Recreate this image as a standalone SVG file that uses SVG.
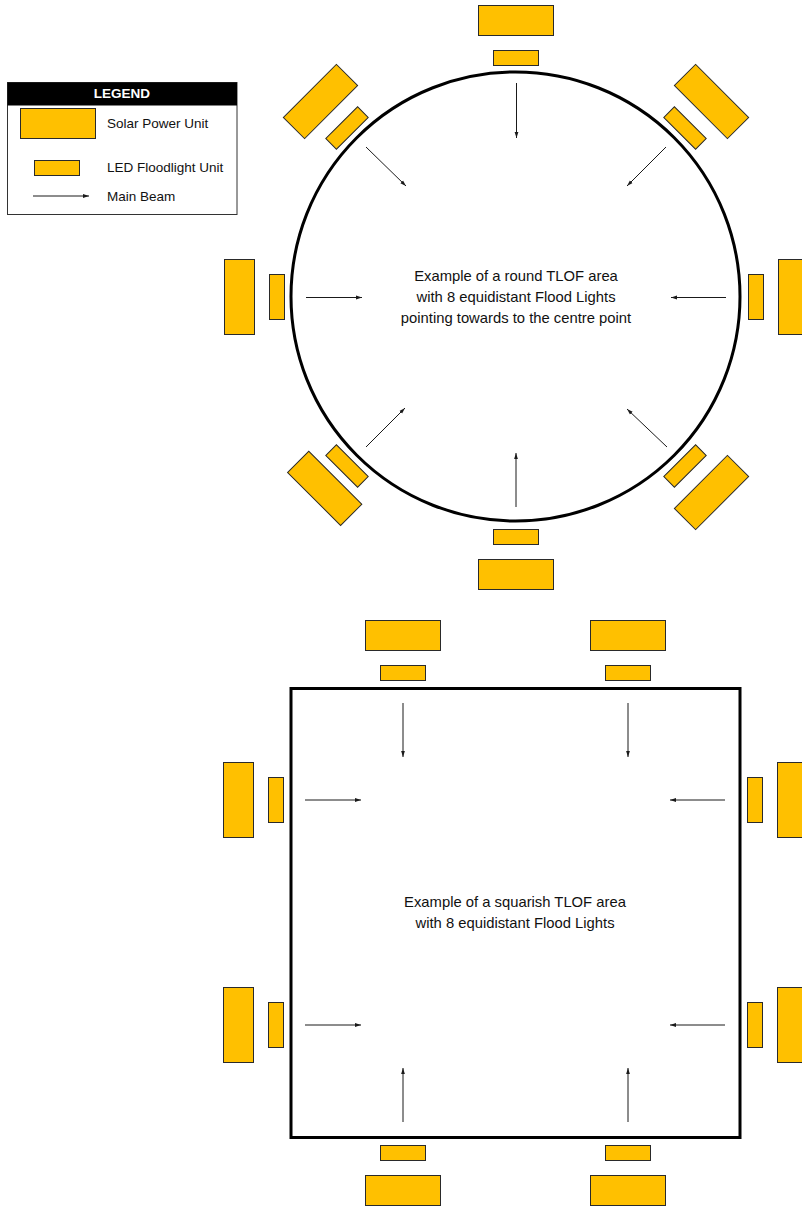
<svg xmlns="http://www.w3.org/2000/svg" width="802" height="1206" viewBox="0 0 802 1206">
<style>
.u{fill:#FFC000;stroke:#2a2a2a;stroke-width:1}
.beam{stroke:#1a1a1a;stroke-width:1;fill:none;marker-end:url(#ah)}
.area{fill:none;stroke:#000;stroke-width:3}
.t{font-family:"Liberation Sans",Arial,sans-serif;font-size:13.5px;fill:#111}
.c{font-family:"Liberation Sans",Arial,sans-serif;font-size:14.8px;fill:#111;text-anchor:middle}
</style>
<defs>
<marker id="ah" markerUnits="userSpaceOnUse" markerWidth="7" markerHeight="5" refX="6" refY="2.5" orient="auto"><path d="M0,0.6 L6,2.5 L0,4.4 z" fill="#1a1a1a"/></marker>
<g id="unitV"><rect class="u" x="478.5" y="5.5" width="75" height="30"/><rect class="u" x="493.5" y="50.5" width="45" height="15"/></g>
</defs>
<rect width="802" height="1206" fill="#fff"/>

<g id="legend">
<rect x="7.5" y="82.5" width="229.5" height="132" fill="#fff" stroke="#333" stroke-width="1"/>
<rect x="7.5" y="82.5" width="229.5" height="23" fill="#000"/>
<text x="122" y="98" fill="#fff" text-anchor="middle" style="font-family:'Liberation Sans',Arial,sans-serif;font-size:13.5px;font-weight:bold">LEGEND</text>
<rect class="u" x="20.5" y="108.5" width="75" height="30"/>
<text class="t" x="107" y="128">Solar Power Unit</text>
<rect class="u" x="34.5" y="160.5" width="45" height="15"/>
<text class="t" x="107" y="172">LED Floodlight Unit</text>
<line class="beam" x1="33" y1="196" x2="89" y2="196"/>
<text class="t" x="107" y="201">Main Beam</text>
</g>

<g id="round-area">
<circle class="area" cx="515.5" cy="296.5" r="224.5"/>
<text class="c" x="516" y="281">Example of a round TLOF area</text>
<text class="c" x="516" y="302">with 8 equidistant Flood Lights</text>
<text class="c" x="516" y="323">pointing towards to the centre point</text>
</g>

<g id="round-n"><use href="#unitV"/></g>
<g id="round-nw"><use href="#unitV" transform="rotate(-45 516 297)"/></g>
<g id="round-ne"><use href="#unitV" transform="rotate(45 516 297)"/></g>
<g id="round-w"><rect class="u" x="224.5" y="259.5" width="30" height="75"/><rect class="u" x="269.5" y="274.5" width="15" height="45"/></g>
<g id="round-e"><rect class="u" x="748.5" y="274.5" width="15" height="45"/><rect class="u" x="778.5" y="259.5" width="30" height="75"/></g>
<g id="round-s"><rect class="u" x="493.5" y="529.5" width="45" height="15"/><rect class="u" x="478.5" y="559.5" width="75" height="30"/></g>
<g id="round-sw"><rect class="u" x="478.5" y="5.5" width="75" height="30" transform="translate(4.2 -4.2) rotate(-135 516 297)"/><rect class="u" x="493.5" y="50.5" width="45" height="15" transform="rotate(-135 516 297)"/></g>
<g id="round-se"><use href="#unitV" transform="rotate(135 516 297)"/></g>

<g id="square-area">
<rect class="area" x="291" y="688.5" width="449" height="449"/>
<text class="c" x="515" y="907">Example of a squarish TLOF area</text>
<text class="c" x="515" y="928">with 8 equidistant Flood Lights</text>
</g>

<g id="sq-n1"><rect class="u" x="365.5" y="620.5" width="75" height="30"/><rect class="u" x="380.5" y="665.5" width="45" height="15"/></g>
<g id="sq-n2"><rect class="u" x="590.5" y="620.5" width="75" height="30"/><rect class="u" x="605.5" y="665.5" width="45" height="15"/></g>
<g id="sq-s1"><rect class="u" x="380.5" y="1145.5" width="45" height="15"/><rect class="u" x="365.5" y="1175.5" width="75" height="30"/></g>
<g id="sq-s2"><rect class="u" x="605.5" y="1145.5" width="45" height="15"/><rect class="u" x="590.5" y="1175.5" width="75" height="30"/></g>
<g id="sq-w1"><rect class="u" x="223.5" y="762.5" width="30" height="75"/><rect class="u" x="268.5" y="777.5" width="15" height="45"/></g>
<g id="sq-w2"><rect class="u" x="223.5" y="987.5" width="30" height="75"/><rect class="u" x="268.5" y="1002.5" width="15" height="45"/></g>
<g id="sq-e1"><rect class="u" x="747.5" y="777.5" width="15" height="45"/><rect class="u" x="777.5" y="762.5" width="30" height="75"/></g>
<g id="sq-e2"><rect class="u" x="747.5" y="1002.5" width="15" height="45"/><rect class="u" x="777.5" y="987.5" width="30" height="75"/></g>

<g id="connectors">
<line class="beam" x1="516.5" y1="83" x2="516.5" y2="138"/>
<line class="beam" x1="516" y1="507" x2="516" y2="453"/>
<line class="beam" x1="306" y1="297.5" x2="362" y2="297.5"/>
<line class="beam" x1="726" y1="297.5" x2="671" y2="297.5"/>
<line class="beam" x1="366" y1="147" x2="406" y2="186"/>
<line class="beam" x1="666" y1="147" x2="627" y2="186"/>
<line class="beam" x1="366" y1="447" x2="405" y2="408"/>
<line class="beam" x1="667" y1="447" x2="627" y2="409"/>
<line class="beam" x1="403" y1="703" x2="403" y2="757"/>
<line class="beam" x1="628" y1="703" x2="628" y2="757"/>
<line class="beam" x1="403" y1="1122" x2="403" y2="1068"/>
<line class="beam" x1="628" y1="1122" x2="628" y2="1068"/>
<line class="beam" x1="305" y1="800" x2="361" y2="800"/>
<line class="beam" x1="305" y1="1025" x2="361" y2="1025"/>
<line class="beam" x1="725" y1="800" x2="670" y2="800"/>
<line class="beam" x1="725" y1="1025" x2="670" y2="1025"/>
</g>
</svg>
